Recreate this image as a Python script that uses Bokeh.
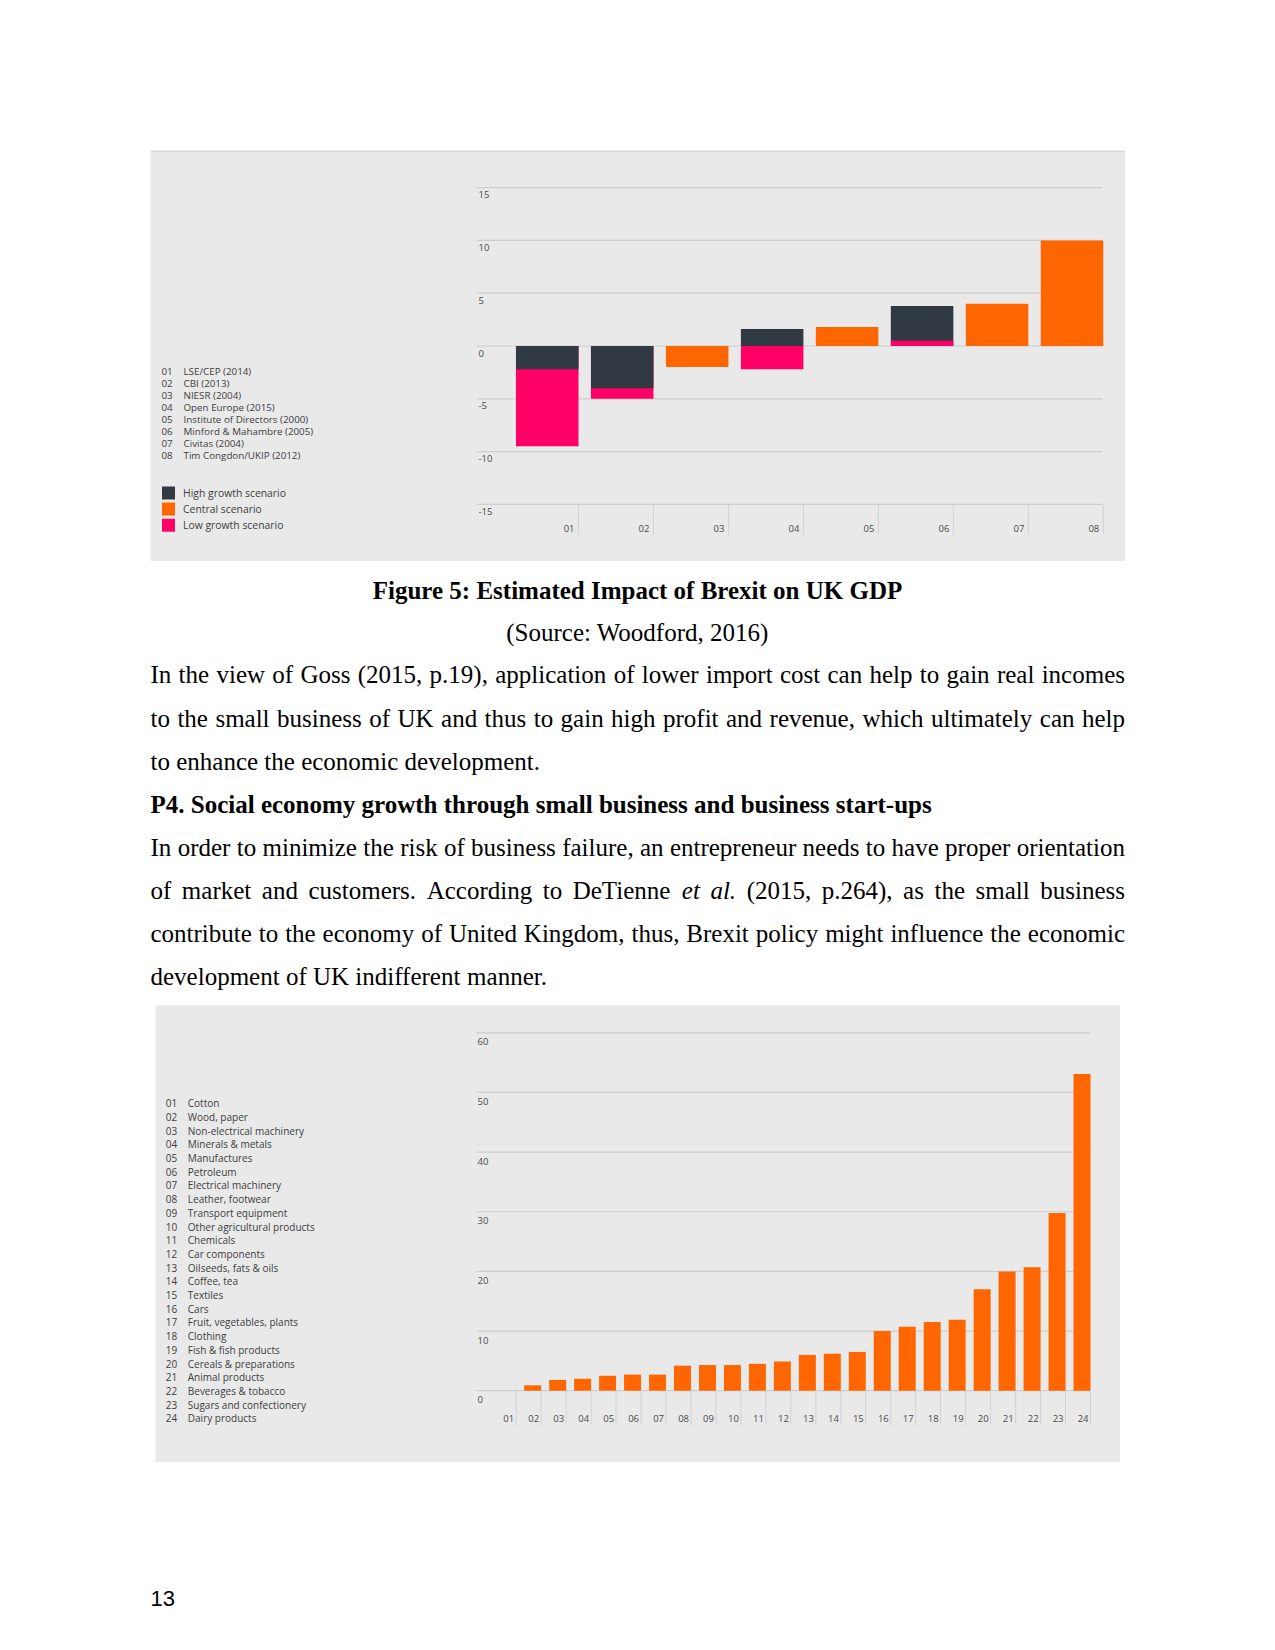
import numpy as np
from bokeh.plotting import figure
from bokeh.layouts import column, row
from bokeh.models import Spacer, Range1d
from bokeh.core.properties import value
from bokeh.embed import file_html
from bokeh.resources import INLINE

# ---------------- data: Figure 5, estimated impact of Brexit on UK GDP (%) ----------------
study_codes = ["01", "02", "03", "04", "05", "06", "07", "08"]
study_names = ["LSE/CEP (2014)", "CBI (2013)", "NIESR (2004)", "Open Europe (2015)",
               "Institute of Directors (2000)", "Minford & Mahambre (2005)",
               "Civitas (2004)", "Tim Congdon/UKIP (2012)"]
high_growth = [-2.2, -4.0, None, 1.6, None, 3.8, None, None]
central_scenario = [None, None, -2.0, None, 1.8, None, 4.0, 10.0]
low_growth = [-9.5, -5.0, None, -2.2, None, 0.5, None, None]
scenario_names = ["High growth scenario", "Central scenario", "Low growth scenario"]
gdp_ticks = [15, 10, 5, 0, -5, -10, -15]

# ---------------- data: second chart (tariff by product group, %) ----------------
product_codes = ["01", "02", "03", "04", "05", "06", "07", "08", "09", "10", "11", "12",
                 "13", "14", "15", "16", "17", "18", "19", "20", "21", "22", "23", "24"]
product_names = ["Cotton", "Wood, paper", "Non-electrical machinery", "Minerals & metals",
                 "Manufactures", "Petroleum", "Electrical machinery", "Leather, footwear",
                 "Transport equipment", "Other agricultural products", "Chemicals",
                 "Car components", "Oilseeds, fats & oils", "Coffee, tea", "Textiles", "Cars",
                 "Fruit, vegetables, plants", "Clothing", "Fish & fish products",
                 "Cereals & preparations", "Animal products", "Beverages & tobacco",
                 "Sugars and confectionery", "Dairy products"]
tariff_values = [0.0, 0.9, 1.8, 2.0, 2.5, 2.7, 2.7, 4.2, 4.3, 4.3, 4.5, 4.9,
                 6.0, 6.2, 6.5, 10.0, 10.7, 11.5, 11.9, 17.0, 20.0, 20.7, 29.8, 53.1]
tariff_ticks = [60, 50, 40, 30, 20, 10, 0]

# ---------------- page text ----------------
caption_title = "Figure 5: Estimated Impact of Brexit on UK GDP"
caption_source = "(Source: Woodford, 2016)"
para1_lines = [
    "In the view of Goss (2015, p.19), application of lower import cost can help to gain real incomes",
    "to the small business of UK and thus to gain high profit and revenue, which ultimately can help",
    "to enhance the economic development.",
]
heading = "P4. Social economy growth through small business and business start-ups"
para2_lines = [
    "In order to minimize the risk of business failure, an entrepreneur needs to have proper orientation",
    "of market and customers. According to DeTienne *et* *al.* (2015, p.264), as the small business",
    "contribute to the economy of United Kingdom, thus, Brexit policy might influence the economic",
    "development of UK indifferent manner.",
]
page_number = "13"

# ---------------- styles ----------------
PANEL = "#e9e9e9"
PANEL_EDGE = "#d9d9d9"
GRID = "#cdcdcd"
TICKC = "#d2d2d2"
DARK = "#313a42"
ORANGE = "#ff6600"
PINK = "#ff0066"
LABEL = "#4a4a4a"
LEGEND_TXT = "#3d3d3d"
CHART_FONT = value("Open Sans")
SERIF = value("Liberation Serif")
W = 1267

# Times (Liberation Serif) advance widths, 1/1000 em, for justification
_TR = {" ": 250, "(": 333, ")": 333, ",": 250, "-": 333, ".": 250, ":": 278, "&": 778, "/": 278}
_TR.update({d: 500 for d in "0123456789"})
_TR.update(dict(zip("ABCDEFGHIJKLMNOPQRSTUVWXYZ",
                    [722, 667, 667, 722, 611, 556, 722, 722, 333, 389, 722, 611, 889, 722, 722,
                     556, 722, 667, 556, 611, 722, 722, 944, 722, 722, 611])))
_TR.update(dict(zip("abcdefghijklmnopqrstuvwxyz",
                    [444, 500, 444, 500, 444, 333, 500, 500, 278, 278, 500, 278, 778, 500, 500,
                     500, 500, 333, 389, 278, 500, 500, 722, 500, 500, 444])))
_TI = dict(_TR)
_TI.update({"a": 500, "e": 444, "l": 278, "t": 278, ".": 250})


def blank_fig(width, height, xr, yr, bg):
    p = figure(width=width, height=height, x_range=xr, y_range=yr,
               output_backend="svg", toolbar_location=None,
               x_axis_location=None, y_axis_location=None,
               min_border=0, outline_line_color=None,
               background_fill_color=bg, border_fill_color=bg)
    p.grid.visible = False
    return p


# ======================= Chart 1 (panel = page px 150..1125 x 150..561) =======================
P1_L, P1_R, P1_T, P1_B = 150.0, 1125.0, 150.0, 561.0
C1_TICK0, C1_STEP = 578.0, 74.97        # page x of first tick, px per category
C1_ZERO, C1_PPU = 345.5, 10.557         # page y of 0, px per unit
C1_GL, C1_GR = 476.0, 1102.0            # gridline extent
BAR1 = 0.834


def cx1(px):
    return 1 + (px - C1_TICK0) / C1_STEP


def cy1(py):
    return (C1_ZERO - py) / C1_PPU


c1 = blank_fig(int(P1_R - P1_L), int(P1_B - P1_T), Range1d(cx1(P1_L), cx1(P1_R)),
               Range1d(cy1(P1_B), cy1(P1_T)), PANEL)
c1.segment(x0=cx1(P1_L), x1=cx1(P1_R), y0=cy1(P1_T + 0.8), y1=cy1(P1_T + 0.8),
           line_color=PANEL_EDGE, line_width=1.5)
c1.segment(x0=cx1(C1_GL), x1=cx1(C1_GR), y0=gdp_ticks, y1=gdp_ticks,
           line_color=GRID, line_width=1.2)

x1 = np.arange(1, len(study_codes) + 1)
bx, btop, bcol = [], [], []
for i, k in enumerate(x1):
    entries = [(v, c) for v, c in ((high_growth[i], DARK), (central_scenario[i], ORANGE),
                                   (low_growth[i], PINK)) if v is not None]
    entries.sort(key=lambda e: -abs(e[0]))
    for v, c in entries:
        bx.append(k - BAR1 / 2)
        btop.append(v)
        bcol.append(c)
c1.vbar(x=bx, width=BAR1, bottom=0, top=btop, fill_color=bcol, line_color=None)

c1.segment(x0=x1, y0=min(gdp_ticks), x1=x1, y1=cy1(534), line_color=TICKC, line_width=1)
c1.text(x=x1, y=cy1(528), text=study_codes, x_offset=-4, text_align="right",
        text_baseline="middle", text_font=CHART_FONT, text_font_size="9.5px", text_color=LABEL)
c1.text(x=cx1(C1_GL + 2), y=gdp_ticks, text=[str(t) for t in gdp_ticks],
        y_offset=7, text_align="left", text_baseline="middle",
        text_font=CHART_FONT, text_font_size="9.5px", text_color=LABEL)

# legend (study list + scenario key)
ly1 = cy1(370.7 + 12.1 * np.arange(len(study_codes)))
c1.text(x=cx1(161), y=ly1, text=study_codes, text_baseline="middle", text_font=CHART_FONT,
        text_font_size="9.8px", text_color=LEGEND_TXT)
c1.text(x=cx1(183), y=ly1, text=study_names, text_baseline="middle", text_font=CHART_FONT,
        text_font_size="9.8px", text_color=LEGEND_TXT)
sy1 = cy1(492.4 + 16.2 * np.arange(3))
c1.rect(x=cx1(168), y=sy1, width=13 / C1_STEP, height=13 / C1_PPU,
        fill_color=[DARK, ORANGE, PINK], line_color=None)
c1.text(x=cx1(182.5), y=sy1, text=scenario_names, text_baseline="middle", text_font=CHART_FONT,
        text_font_size="10.4px", text_color=LEGEND_TXT)

# ======================= Text block (page y 561..1005) =======================
TXT_T, TXT_B = P1_B, 1005.0
TL, TR_ = 150.0, 1124.5
txt = blank_fig(W, int(TXT_B - TXT_T), Range1d(0, W), Range1d(TXT_B, TXT_T), "white")
txt.text(x=637, y=[589.5], text=[caption_title], text_align="center", text_baseline="alphabetic",
         text_font=SERIF, text_font_size="25px", text_font_style="bold", text_color="black")
txt.text(x=637, y=[631.5], text=[caption_source], text_align="center", text_baseline="alphabetic",
         text_font=SERIF, text_font_size="25px", text_color="black")

body = []  # (line, justify)
for j, ln in enumerate(para1_lines):
    body.append((ln, j < len(para1_lines) - 1))
body.append((None, False))
for j, ln in enumerate(para2_lines):
    body.append((ln, j < len(para2_lines) - 1))

wx, wy, wt, ws = [], [], [], []
for li, (ln, just) in enumerate(body):
    base = 674.4 + 43.1 * li
    if ln is None:
        txt.text(x=TL, y=[base], text=[heading], text_baseline="alphabetic", text_font=SERIF,
                 text_font_size="25px", text_font_style="bold", text_color="black")
        continue
    items = []
    for w in ln.split(" "):
        it = w.startswith("*")
        w = w.strip("*")
        tab = _TI if it else _TR
        items.append((w, "italic" if it else "normal",
                      sum(tab.get(ch, 500) for ch in w) * 25 / 1000))
    if just:
        gap = (TR_ - TL - sum(i[2] for i in items)) / (len(items) - 1)
    else:
        gap = 250 * 25 / 1000
    x = TL
    for w, st, wd in items:
        wx.append(x); wy.append(base); wt.append(w); ws.append(st)
        x += wd + gap
txt.text(x=wx, y=wy, text=wt, text_font_style=ws, text_baseline="alphabetic", text_font=SERIF,
         text_font_size="25px", text_color="black")

# ======================= Chart 2 (panel = page px 155..1120 x 1005..1462) =======================
P2_L, P2_R, P2_T, P2_B = 155.0, 1120.0, TXT_B, 1462.0
C2_TICK0, C2_STEP = 515.7, 24.97
C2_ZERO, C2_PPU = 1390.2, 5.965
C2_GL, C2_GR = 476.0, 1090.0
BAR2 = 0.68


def cx2(px):
    return 1 + (px - C2_TICK0) / C2_STEP


def cy2(py):
    return (C2_ZERO - py) / C2_PPU


c2 = blank_fig(int(P2_R - P2_L), int(P2_B - P2_T), Range1d(cx2(P2_L), cx2(P2_R)),
               Range1d(cy2(P2_B), cy2(P2_T)), PANEL)
c2.segment(x0=cx2(C2_GL), x1=cx2(C2_GR), y0=tariff_ticks, y1=tariff_ticks,
           line_color=GRID, line_width=1.2)
x2 = np.arange(1, len(product_codes) + 1)
c2.vbar(x=x2 - BAR2 / 2, width=BAR2, bottom=0, top=tariff_values, fill_color=ORANGE,
        line_color=None)
c2.segment(x0=x2, y0=0, x1=x2, y1=cy2(1424), line_color=TICKC, line_width=1)
c2.text(x=x2, y=cy2(1418), text=product_codes, x_offset=-2, text_align="right",
        text_baseline="middle", text_font=CHART_FONT, text_font_size="9.5px", text_color=LABEL)
c2.text(x=cx2(C2_GL + 1), y=tariff_ticks, text=[str(t) for t in tariff_ticks],
        y_offset=9, text_align="left", text_baseline="middle",
        text_font=CHART_FONT, text_font_size="9.5px", text_color=LABEL)

ly2 = cy2(1102.7 + 13.7 * np.arange(len(product_codes)))
c2.text(x=cx2(165.3), y=ly2, text=product_codes, text_baseline="middle", text_font=CHART_FONT,
        text_font_size="10px", text_color=LEGEND_TXT)
c2.text(x=cx2(187.3), y=ly2, text=product_names, text_baseline="middle", text_font=CHART_FONT,
        text_font_size="10px", text_color=LEGEND_TXT)

# ======================= Footer (page y 1462..1642) =======================
foot = blank_fig(W, int(1642 - P2_B), Range1d(0, W), Range1d(1642, P2_B), "white")
foot.text(x=150, y=[1598], text=[page_number], text_baseline="alphabetic",
          text_font=value("Liberation Sans"), text_font_size="22px", text_color="black")

page = column(
    Spacer(width=W, height=int(P1_T)),
    row(Spacer(width=int(P1_L), height=int(P1_B - P1_T)), c1),
    txt,
    row(Spacer(width=int(P2_L), height=int(P2_B - P2_T)), c2),
    foot,
)

with open("out.html", "w") as f:
    f.write(file_html(page, INLINE, title="Brexit impact"))
